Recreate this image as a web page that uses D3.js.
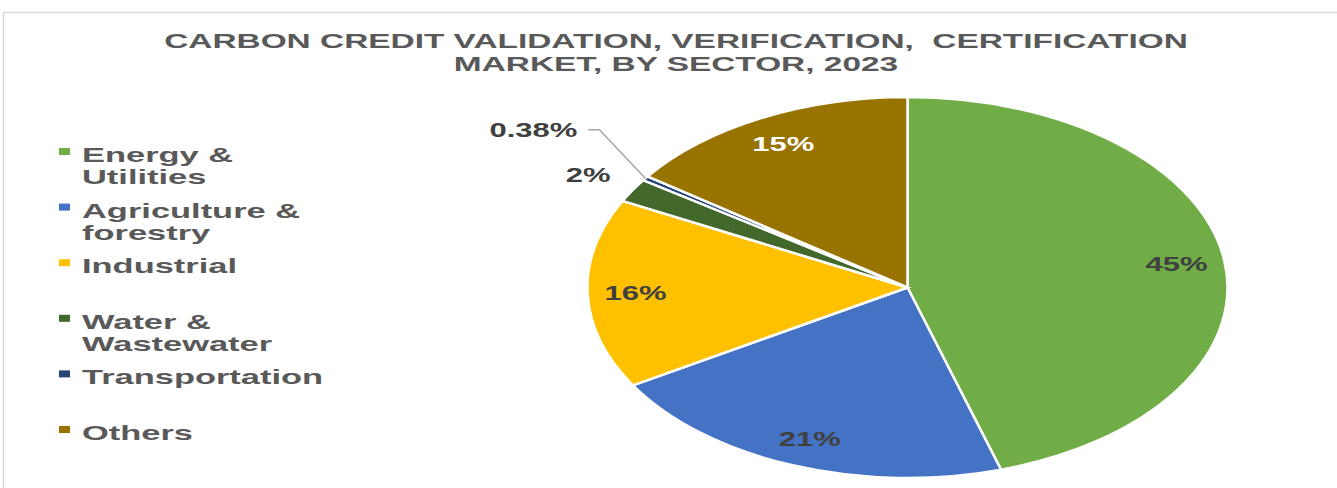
<!DOCTYPE html>
<meta charset="utf-8">
<script src="https://d3js.org/d3.v7.min.js"></script>
<style>
  body { margin: 0; background: #fff; }
  text { font-family: "Liberation Sans", Arial, sans-serif; font-weight: bold; white-space: pre; }
</style>
<div id="chart"></div>
<script>
// data
var sectors = ["Energy & Utilities", "Agriculture & forestry", "Industrial", "Water & Wastewater", "Transportation", "Others"];
var legendLines = [["Energy &", "Utilities"], ["Agriculture &", "forestry"], ["Industrial"], ["Water &", "Wastewater"], ["Transportation"], ["Others"]];
var shares = [45, 21, 16, 2, 0.38, 15];
var shareLabels = ["45%", "21%", "16%", "2%", "0.38%", "15%"];
var colors = ["#70AD47", "#4472C4", "#FFC000", "#43682B", "#264478", "#997300"];
var titleLines = ["CARBON CREDIT VALIDATION, VERIFICATION,  CERTIFICATION", "MARKET, BY SECTOR, 2023"];

var W = 1337, H = 488;
var cx = 907.5, cy = 287.5, ry = 190.5, rx = 320;
var sx = rx / ry;

var svg = d3.select("#chart").append("svg")
  .attr("width", W).attr("height", H);

// frame
svg.append("rect")
  .attr("x", 3.5).attr("y", 12.5)
  .attr("width", W + 20).attr("height", H + 20)
  .attr("fill", "none").attr("stroke", "#d9d9d9").attr("stroke-width", 1.5);

// stretch text horizontally to match the reference
function stretch(sel, k) {
  sel.each(function() {
    var len = this.getComputedTextLength();
    d3.select(this).attr("textLength", len * k).attr("lengthAdjust", "spacingAndGlyphs");
  });
}

// title
var title = svg.append("g");
title.selectAll("text")
  .data(titleLines)
  .join("text")
    .attr("x", 676)
    .attr("y", function(d, i) { return 48 + i * 23; })
    .attr("text-anchor", "middle")
    .attr("fill", "#595959")
    .style("font-size", "20px")
    .text(function(d) { return d; })
    .call(stretch, 1.67);

// pie
var pie = d3.pie().sort(null).value(function(d) { return d; });
var arcs = pie(shares);
var arc = d3.arc().innerRadius(0).outerRadius(ry);

var pieG = svg.append("g")
  .attr("transform", "translate(" + cx + "," + cy + ") scale(" + sx + ",1)");

pieG.selectAll("path")
  .data(arcs)
  .join("path")
    .attr("d", arc)
    .attr("fill", function(d, i) { return colors[i]; })
    .attr("stroke", "#fff")
    .attr("stroke-width", 2.5)
    .attr("vector-effect", "non-scaling-stroke");

// polar -> screen (angle measured clockwise from top)
function pt(a, r) {
  return [cx + Math.sin(a) * r * sx, cy - Math.cos(a) * r];
}
function mid(d) { return (d.startAngle + d.endAngle) / 2; }

var small = 3; // slices below this % get outside labels
var labelG = svg.append("g");

arcs.forEach(function(d, i) {
  var a = mid(d);
  if (shares[i] >= small) {
    var p = pt(a, ry * 0.85);
    labelG.append("text")
      .attr("x", p[0]).attr("y", p[1])
      .attr("dy", "0.36em")
      .attr("text-anchor", "middle")
      .attr("fill", i === 5 ? "#fff" : "#404040")
      .style("font-size", "20px")
      .text(shareLabels[i])
      .call(stretch, 1.55);
  } else if (shares[i] >= 1) {
    var q = pt(a, ry * 1.16);
    labelG.append("text")
      .attr("x", q[0]).attr("y", q[1])
      .attr("dy", "0.36em")
      .attr("text-anchor", "middle")
      .attr("fill", "#404040")
      .style("font-size", "20px")
      .text(shareLabels[i])
      .call(stretch, 1.55);
  } else {
    // leader line label
    var e = pt(a, ry), k = pt(a + 0.1, ry * 1.27);
    labelG.append("polyline")
      .attr("points", [e, k, [k[0] - 11, k[1]]].map(function(p) { return p.join(","); }).join(" "))
      .attr("fill", "none")
      .attr("stroke", "#a6a6a6")
      .attr("stroke-width", 1.5);
    labelG.append("text")
      .attr("x", k[0] - 22).attr("y", k[1])
      .attr("dy", "0.36em")
      .attr("text-anchor", "end")
      .attr("fill", "#404040")
      .style("font-size", "20px")
      .text(shareLabels[i])
      .call(stretch, 1.55);
  }
});

// legend
var legend = svg.append("g");
var entry = legend.selectAll("g")
  .data(sectors)
  .join("g")
    .attr("transform", function(d, i) { return "translate(0," + (162 + i * 55.6) + ")"; });

entry.append("rect")
  .attr("x", 59).attr("y", -14)
  .attr("width", 11).attr("height", 7)
  .attr("fill", function(d, i) { return colors[i]; });

entry.each(function(d, i) {
  d3.select(this).selectAll("text")
    .data(legendLines[i])
    .join("text")
      .attr("x", 82)
      .attr("y", function(t, j) { return j * 22; })
      .attr("fill", "#595959")
      .style("font-size", "21px")
      .text(function(t) { return t; })
      .call(stretch, 1.64);
});
</script>
